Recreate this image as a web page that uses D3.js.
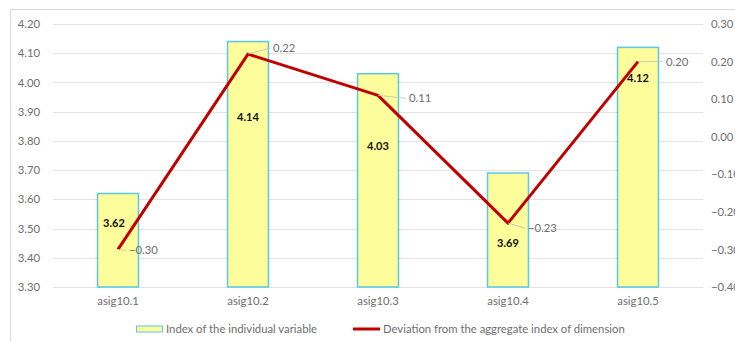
<!DOCTYPE html>
<html>
<head>
<meta charset="utf-8">
<script src="https://cdn.jsdelivr.net/npm/d3@7"></script>
<style>
  body { margin: 0; background: #fff; }
  text { font-family: Lato, "Open Sans", sans-serif; }
</style>
</head>
<body>
<div id="chart"></div>
<script>
const categories = ["asig10.1", "asig10.2", "asig10.3", "asig10.4", "asig10.5"];
const indexValues = [3.62, 4.14, 4.03, 3.69, 4.12];
const deviationValues = [-0.30, 0.22, 0.11, -0.23, 0.20];
const leftTicks = [3.3, 3.4, 3.5, 3.6, 3.7, 3.8, 3.9, 4.0, 4.1, 4.2];
const rightTicks = [-0.4, -0.3, -0.2, -0.1, 0.0, 0.1, 0.2, 0.3];
const seriesNames = ["Index of the individual variable", "Deviation from the aggregate index of dimension"];

// hand-placed label offsets (px), like the original
const barLabelDy = [30, 76, 72, 70, 31];
const lineLabelOff = [[11, 1], [25, -6], [31, 3], [20, 5], [28, 0]];

const width = 735, height = 342;
const m = { left: 53, right: 32, top: 24, bottom: 55 };

const svg = d3.select('#chart')
    .append('svg')
    .attr('width', width)
    .attr('height', height);

// chart frame
svg.append('rect')
    .attr('x', 10.5).attr('y', 9.5)
    .attr('width', 740).attr('height', 360)
    .attr('fill', 'none')
    .attr('stroke', '#d9d9d9');

const x = d3.scaleBand()
    .domain(categories)
    .range([m.left, width - m.right])
    .paddingInner(0.685)
    .paddingOuter(0.3425);

const yL = d3.scaleLinear().domain([3.3, 4.2]).range([height - m.bottom, m.top]);
const yR = d3.scaleLinear().domain([-0.4, 0.3]).range([height - m.bottom, m.top]);

// gridlines
svg.append('g')
    .selectAll('line')
    .data(leftTicks)
    .join('line')
    .attr('x1', m.left).attr('x2', width - m.right)
    .attr('y1', d => Math.round(yL(d)) + 0.5)
    .attr('y2', d => Math.round(yL(d)) + 0.5)
    .attr('stroke', '#e3e3e3');

const leftAxis = svg.append('g')
    .attr('transform', `translate(${m.left - 10},0)`)
    .call(d3.axisLeft(yL).tickValues(leftTicks).tickFormat(d3.format('.2f')).tickSize(0));
const rightAxis = svg.append('g')
    .attr('transform', `translate(${width - m.right + 5},0)`)
    .call(d3.axisRight(yR).tickValues(rightTicks).tickFormat(d3.format('.2f')).tickSize(0));
[leftAxis, rightAxis].forEach(a => {
    a.select('.domain').remove();
    a.selectAll('text').attr('fill', '#6e6e6e').attr('font-size', 11.3).attr('dx', 0);
});

// bars
svg.append('g')
    .selectAll('rect')
    .data(indexValues)
    .join('rect')
    .attr('x', (d, i) => x(categories[i]))
    .attr('y', d => yL(d))
    .attr('width', x.bandwidth())
    .attr('height', d => yL(3.3) - yL(d))
    .attr('fill', '#fdfd9c')
    .attr('stroke', '#5bc8e6')
    .attr('stroke-width', 1.5);

// x axis labels
const xAxis = svg.append('g')
    .attr('transform', `translate(0,${height - m.bottom + 7})`)
    .call(d3.axisBottom(x).tickSize(0));
xAxis.select('.domain').remove();
xAxis.selectAll('text').attr('fill', '#6e6e6e').attr('font-size', 11.3);

// deviation line
const cx = (d, i) => x(categories[i]) + x.bandwidth() / 2;
svg.append('path')
    .datum(deviationValues)
    .attr('d', d3.line().x(cx).y(d => yR(d)))
    .attr('fill', 'none')
    .attr('stroke', '#c00000')
    .attr('stroke-width', 3)
    .attr('stroke-linejoin', 'round');

// leader lines + line labels
svg.append('g')
    .selectAll('line')
    .data(deviationValues)
    .join('line')
    .attr('x1', cx)
    .attr('y1', d => yR(d))
    .attr('x2', (d, i) => cx(d, i) + lineLabelOff[i][0] - 3)
    .attr('y2', (d, i) => yR(d) + lineLabelOff[i][1])
    .attr('stroke', '#bfbfbf')
    .attr('stroke-width', 0.8);

svg.append('g')
    .selectAll('text')
    .data(deviationValues)
    .join('text')
    .attr('x', (d, i) => cx(d, i) + lineLabelOff[i][0])
    .attr('y', (d, i) => yR(d) + lineLabelOff[i][1])
    .attr('dy', '0.35em')
    .attr('font-size', 11.3)
    .attr('fill', '#6e6e6e')
    .text(d => d3.format('.2f')(d));

// bar labels
svg.append('g')
    .selectAll('text')
    .data(indexValues)
    .join('text')
    .attr('x', (d, i) => cx(d, i) - (i === 0 ? 4 : 0))
    .attr('y', (d, i) => yL(d) + barLabelDy[i])
    .attr('dy', '0.35em')
    .attr('text-anchor', 'middle')
    .attr('font-size', 11)
    .attr('font-weight', 'bold')
    .attr('fill', '#111')
    .text(d => d3.format('.2f')(d));

// legend
const leg = svg.append('g').attr('transform', 'translate(136,329)');
leg.append('rect')
    .attr('x', 0.5).attr('y', -3)
    .attr('width', 26).attr('height', 6)
    .attr('fill', '#fdfd9c')
    .attr('stroke', '#5bc8e6');
leg.append('text')
    .attr('x', 30).attr('dy', '0.35em')
    .attr('font-size', 11.3).attr('fill', '#6e6e6e')
    .text(seriesNames[0]);
leg.append('line')
    .attr('x1', 217).attr('x2', 244)
    .attr('stroke', '#c00000').attr('stroke-width', 3);
leg.append('text')
    .attr('x', 247).attr('dy', '0.35em')
    .attr('font-size', 11.3).attr('fill', '#6e6e6e')
    .text(seriesNames[1]);
</script>
</body>
</html>
